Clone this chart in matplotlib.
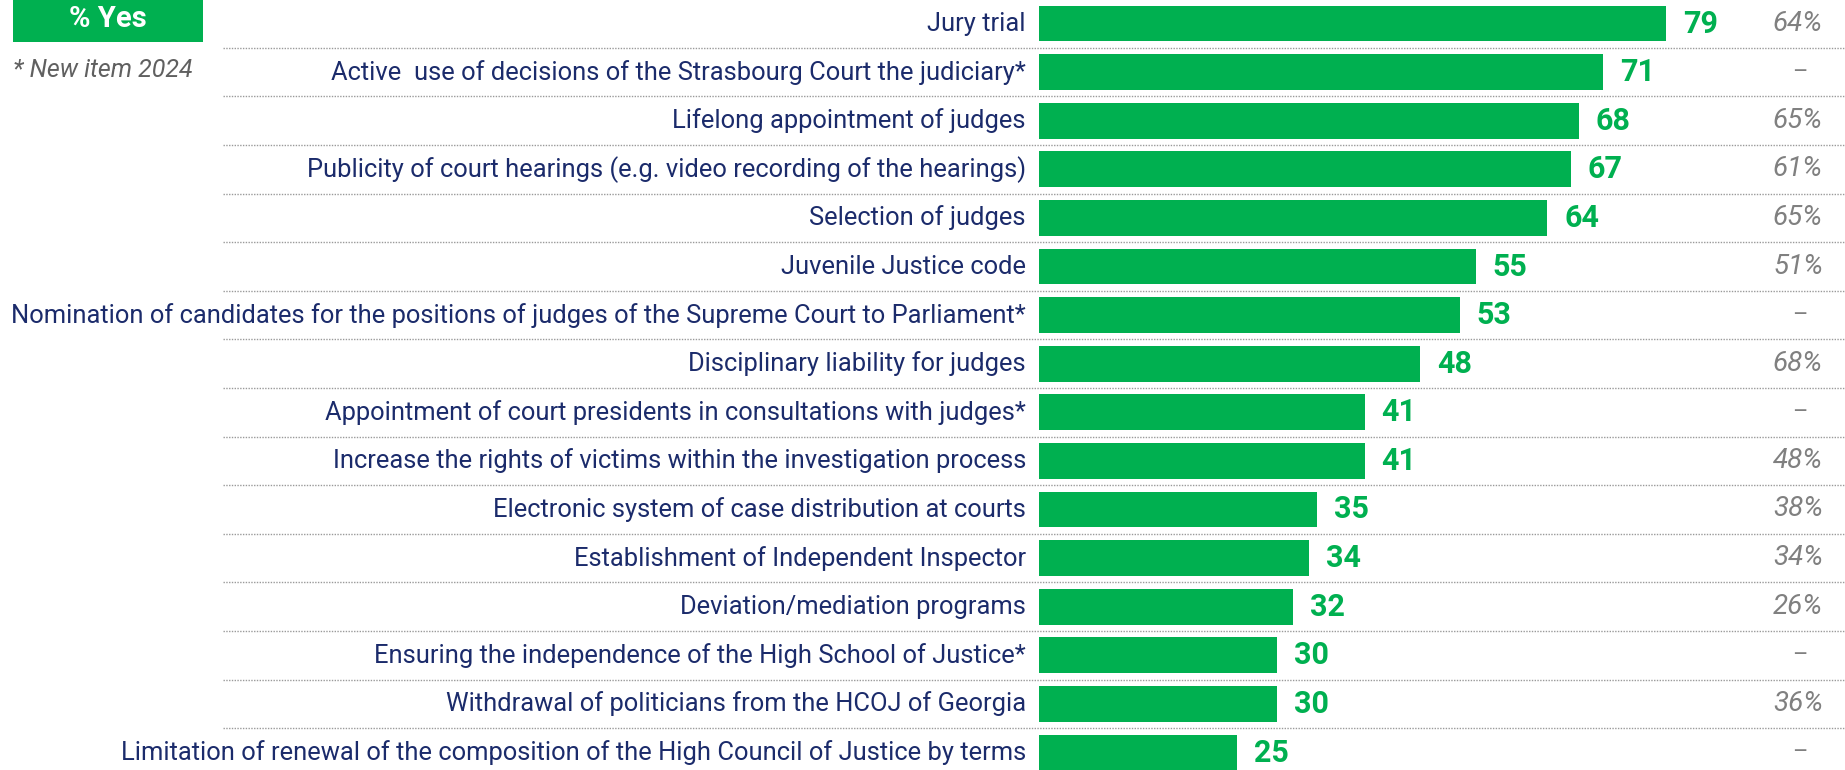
#!/usr/bin/env python3
"""Horizontal bar chart: support for judicial reform items (% Yes), with previous-wave values."""

import matplotlib
matplotlib.use("Agg")
import matplotlib.pyplot as plt
from matplotlib.patches import Rectangle

ITEMS = [
    "Jury trial",
    "Active  use of decisions of the Strasbourg Court the judiciary*",
    "Lifelong appointment of judges",
    "Publicity of court hearings (e.g. video recording of the hearings)",
    "Selection of judges",
    "Juvenile Justice code",
    "Nomination of candidates for the positions of judges of the Supreme Court to Parliament*",
    "Disciplinary liability for judges",
    "Appointment of court presidents in consultations with judges*",
    "Increase the rights of victims within the investigation process",
    "Electronic system of case distribution at courts",
    "Establishment of Independent Inspector",
    "Deviation/mediation programs",
    "Ensuring the independence of the High School of Justice*",
    "Withdrawal of politicians from the HCOJ of Georgia",
    "Limitation of renewal of the composition of the High Council of Justice by terms",
]
YES_2024 = [79, 71, 68, 67, 64, 55, 53, 48, 41, 41, 35, 34, 32, 30, 30, 25]
YES_PREV = [64, None, 65, 61, 65, 51, None, 68, None, 48, 38, 34, 26, None, 36, None]

GREEN = "#00b050"
NAVY = "#1b2b6b"
GREY = "#808080"

W_PX, H_PX = 1845, 770
BAR_X0 = 1039          # pixel where value 0 sits
PX_PER_UNIT = 7.94
ROW_PITCH = 48.6
FIRST_ROW = 23.5

fig = plt.figure(figsize=(W_PX / 100, H_PX / 100), dpi=100)
ax = fig.add_axes([0, 0, 1, 1])
ax.set_xlim(-BAR_X0 / PX_PER_UNIT, (W_PX - BAR_X0) / PX_PER_UNIT)
n = len(ITEMS)
ax.set_ylim((n - 1) + (H_PX - FIRST_ROW - (n - 1) * ROW_PITCH) / ROW_PITCH, -FIRST_ROW / ROW_PITCH)
ax.axis("off")


def px_to_x(px):
    return (px - BAR_X0) / PX_PER_UNIT


rows = list(range(n))
ax.barh(rows, YES_2024, height=0.74, color=GREEN, linewidth=0)

for i in rows[:-1]:
    ax.plot([px_to_x(223), px_to_x(W_PX)], [i + 0.5, i + 0.5], color="#9a9a9a",
            linewidth=1.0, linestyle=(0, (1, 1)))

for i, (label, val, prev) in enumerate(zip(ITEMS, YES_2024, YES_PREV)):
    ax.text(px_to_x(1026), i, label, ha="right", va="center", fontsize=18.4,
            family="Roboto", color=NAVY)
    ax.text(val + 17 / PX_PER_UNIT, i, f"{val}", ha="left", va="center", fontsize=22,
            family="Roboto", weight="bold", color=GREEN)
    if prev is None:
        ax.text(px_to_x(1800), i, "–", ha="center", va="center", fontsize=17,
                family="Roboto", color=GREY)
    else:
        ax.text(px_to_x(1823), i, f"{prev}%", ha="right", va="center", fontsize=20,
                family="Roboto", style="italic", color=GREY)

fig.add_artist(Rectangle((13 / W_PX, 1 - 42 / H_PX), 190 / W_PX, 42 / H_PX,
                         transform=fig.transFigure, color=GREEN, linewidth=0))
fig.text(108 / W_PX, 1 - 19 / H_PX, "% Yes", ha="center", va="center", fontsize=21,
         family="Roboto", weight="bold", color="white")
fig.text(13 / W_PX, 1 - 70 / H_PX, "* New item 2024", ha="left", va="center",
         fontsize=18, family="Roboto", style="italic", color="#606060")

fig.savefig("out.png", dpi=100)
